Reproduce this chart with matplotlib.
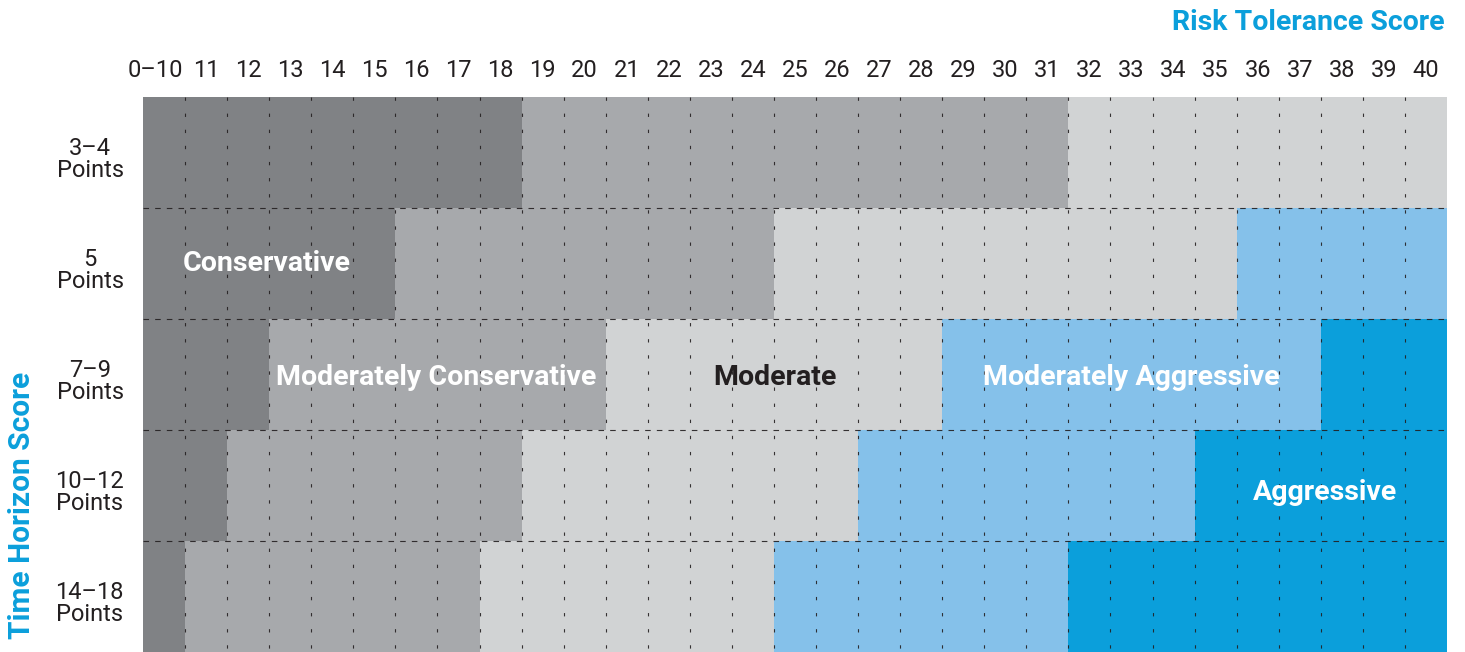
import matplotlib
matplotlib.use("Agg")
import matplotlib.pyplot as plt
import matplotlib.transforms as mtransforms
import numpy as np

plt.rcParams['font.family'] = ['Roboto', 'DejaVu Sans']

# columns = risk tolerance score, rows = time horizon score
risk_labels = ["0–10", "11", "12", "13", "14", "15", "16", "17", "18", "19", "20",
               "21", "22", "23", "24", "25", "26", "27", "28", "29", "30",
               "31", "32", "33", "34", "35", "36", "37", "38", "39", "40"]
time_labels = ["3–4\nPoints", "5\nPoints", "7–9\nPoints", "10–12\nPoints", "14–18\nPoints"]

categories = ["Conservative", "Moderately Conservative", "Moderate",
              "Moderately Aggressive", "Aggressive"]
# how many score columns each profile covers in each row
conservative = [9, 6, 3, 2, 1]
mod_conservative = [13, 9, 8, 7, 7]
moderate = [9, 11, 8, 8, 7]
mod_aggressive = [0, 5, 9, 8, 7]
aggressive = [0, 0, 3, 6, 9]

colors = ["#808285", "#a7a9ac", "#d1d3d4", "#85c1ea", "#0b9fdb"]
blue = "#0b9fdb"
ink = "#231f20"

fig = plt.figure(figsize=(14.65, 6.52), dpi=100)
ax = fig.add_axes([143 / 1465, 0, (1447 - 143) / 1465, 1 - 97 / 652])

rows = np.arange(len(time_labels)) + 0.5
left = np.zeros(len(time_labels))
for widths, c in zip([conservative, mod_conservative, moderate, mod_aggressive, aggressive], colors):
    ax.barh(rows, widths, left=left, height=1.0, color=c, linewidth=0)
    left = left + np.array(widths)

ax.set_xlim(0, len(risk_labels))
ax.set_ylim(len(time_labels), 0)

# dashed grid
ax.vlines(np.arange(1, len(risk_labels)), 0, len(time_labels), colors=ink,
          linewidth=0.8, linestyles=(0, (3, 11.5)), alpha=0.9)
ax.hlines(np.arange(1, len(time_labels)), 0, len(risk_labels), colors=ink,
          linewidth=0.8, linestyles=(0, (5, 5.5)), alpha=0.9)

ax.xaxis.tick_top()
ax.set_xticks(np.arange(len(risk_labels)) + 0.5)
ax.set_xticklabels(risk_labels, fontsize=17, color=ink)
ax.set_yticks(rows)
ax.set_yticklabels(time_labels, fontsize=17, color=ink, multialignment='center',
                   linespacing=0.95)
ax.tick_params(length=0)
ax.tick_params(axis='x', pad=11)
ax.tick_params(axis='y', pad=14)
for s in ax.spines.values():
    s.set_visible(False)

# the wide first label sits a bit to the left
first = ax.get_xticklabels()[0]
first.set_transform(first.get_transform() +
                    mtransforms.ScaledTranslation(-0.09, 0, fig.dpi_scale_trans))
# row labels sit slightly low in their rows
for t in ax.get_yticklabels():
    t.set_transform(t.get_transform() +
                    mtransforms.ScaledTranslation(0, -0.05, fig.dpi_scale_trans))

# profile names
lab = dict(fontsize=20.5, fontweight='bold', ha='center', va='center')
ax.text(2.95, 1.5, "Conservative", color="white", **lab)
ax.text(6.97, 2.53, "Moderately Conservative", color="white", **lab)
ax.text(15.03, 2.53, "Moderate", color=ink, **lab)
ax.text(23.5, 2.53, "Moderately Aggressive", color="white", **lab)
ax.text(28.1, 3.56, "Aggressive", color="white", **lab)

fig.text(1445 / 1465, 1 - 22 / 652, "Risk Tolerance Score", color=blue, fontsize=20.5,
         fontweight='bold', ha='right', va='center')
fig.text(22 / 1465, 1 - 505 / 652, "Time Horizon Score", color=blue, fontsize=21.5,
         fontweight='bold', ha='center', va='center', rotation=90)

fig.savefig("out.png", dpi=100)
